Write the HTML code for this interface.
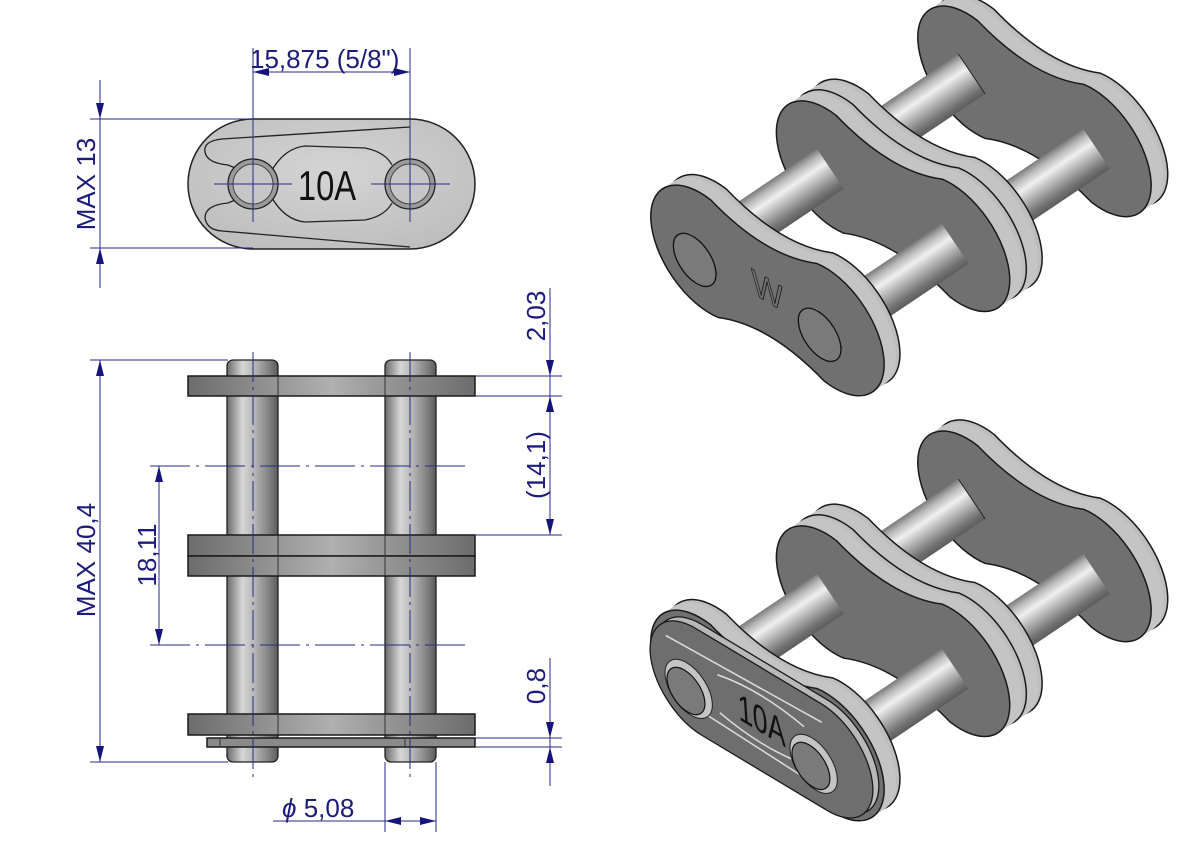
<!DOCTYPE html>
<html><head><meta charset="utf-8"><style>
html,body{margin:0;padding:0;background:#fff;}
svg{display:block;}
.dim{font-family:"Liberation Sans",sans-serif;font-size:26px;fill:#1c1c7c;}
</style></head><body>
<svg width="1191" height="842" viewBox="0 0 1191 842" xmlns="http://www.w3.org/2000/svg" xmlns:xlink="http://www.w3.org/1999/xlink">
<defs>
<linearGradient id="pinV" x1="0" y1="0" x2="1" y2="0">
<stop offset="0" stop-color="#6a6a6a"/><stop offset="0.3" stop-color="#d6d6d6"/><stop offset="0.55" stop-color="#b4b4b4"/><stop offset="0.85" stop-color="#7c7c7c"/><stop offset="1" stop-color="#5a5a5a"/></linearGradient>
<linearGradient id="plateH" x1="0" y1="0" x2="1" y2="0">
<stop offset="0" stop-color="#6c6c6c"/><stop offset="0.5" stop-color="#b0b0b0"/><stop offset="1" stop-color="#6c6c6c"/></linearGradient>
<linearGradient id="pin3" x1="0" y1="0" x2="0" y2="1">
<stop offset="0" stop-color="#7a7a7a"/><stop offset="0.15" stop-color="#b8b8b8"/><stop offset="0.35" stop-color="#f0f0f0"/><stop offset="0.55" stop-color="#bdbdbd"/><stop offset="0.85" stop-color="#747474"/><stop offset="1" stop-color="#5c5c5c"/></linearGradient>
<radialGradient id="topPlate" cx="0.5" cy="0.4" r="0.7"><stop offset="0" stop-color="#d4d4d4"/><stop offset="1" stop-color="#bcbcbc"/></radialGradient>
<path id="db" d="M1.2,6.8 Q7.94,3.9 14.675,6.8 A6.9,6.9 0 1 0 14.675,-6.8 Q7.94,-3.9 1.2,-6.8 A6.9,6.9 0 1 0 1.2,6.8 Z" vector-effect="non-scaling-stroke"/>
<path id="ov" d="M0,6.2 L15.875,6.2 A6.2,6.2 0 0 0 15.875,-6.2 L0,-6.2 A6.2,6.2 0 0 0 0,6.2 Z" vector-effect="non-scaling-stroke"/>
<g id="body">
 <g transform="translate(1113.5,137.6) rotate(-33.9)"><rect x="0" y="-20" width="24" height="40" fill="url(#pin3)"/></g>
 <circle cx="15.875" cy="0" r="1.8" fill="#aaa" stroke="#222" stroke-width="1" vector-effect="non-scaling-stroke" transform="matrix(7.87,4.72,-0.55,-8.65,1009,48)"/>
 <use xlink:href="#db" fill="#bdbdbd" stroke="#1a1a1a" stroke-width="1.5" transform="matrix(7.87,4.72,-0.55,-8.65,988.6,62.7)"/>
 <use xlink:href="#db" fill="#c4c4c4" transform="matrix(7.87,4.72,-0.55,-8.65,984.7,65.4)"/>
 <use xlink:href="#db" fill="#c4c4c4" transform="matrix(7.87,4.72,-0.55,-8.65,980.7,68.0)"/>
 <use xlink:href="#db" fill="#c4c4c4" transform="matrix(7.87,4.72,-0.55,-8.65,976.8,70.7)"/>
 <use xlink:href="#db" fill="#707070" stroke="#1a1a1a" stroke-width="1.5" transform="matrix(7.87,4.72,-0.55,-8.65,972.0,73.9)"/>
 <g transform="translate(863,147) rotate(-33.9)"><rect x="0" y="-24" width="131" height="48" fill="url(#pin3)"/><line x1="131" y1="-24" x2="131" y2="24" stroke="#222"/></g>
 <g transform="translate(987.9,221.9) rotate(-33.9)"><rect x="0" y="-24" width="131" height="48" fill="url(#pin3)"/></g>
 <use xlink:href="#db" fill="#bdbdbd" stroke="#1a1a1a" stroke-width="1.5" transform="matrix(7.87,4.72,-0.55,-8.65,863,147)"/>
 <use xlink:href="#db" fill="#c4c4c4" transform="matrix(7.87,4.72,-0.55,-8.65,859.1,149.7)"/>
 <use xlink:href="#db" fill="#c4c4c4" transform="matrix(7.87,4.72,-0.55,-8.65,855.1,152.3)"/>
 <use xlink:href="#db" fill="#c4c4c4" transform="matrix(7.87,4.72,-0.55,-8.65,851.2,155.0)"/>
 <use xlink:href="#db" fill="#bdbdbd" stroke="#1a1a1a" stroke-width="1.5" transform="matrix(7.87,4.72,-0.55,-8.65,847.2,157.6)"/>
 <use xlink:href="#db" fill="#c4c4c4" transform="matrix(7.87,4.72,-0.55,-8.65,843.3,160.3)"/>
 <use xlink:href="#db" fill="#c4c4c4" transform="matrix(7.87,4.72,-0.55,-8.65,839.3,162.9)"/>
 <use xlink:href="#db" fill="#c4c4c4" transform="matrix(7.87,4.72,-0.55,-8.65,835.4,165.6)"/>
 <use xlink:href="#db" fill="#707070" stroke="#1a1a1a" stroke-width="1.5" transform="matrix(7.87,4.72,-0.55,-8.65,830.6,168.7)"/>
 <g transform="translate(720.8,242.4) rotate(-33.9)"><rect x="0" y="-24" width="132" height="48" fill="url(#pin3)"/></g>
 <g transform="translate(845.7,317.3) rotate(-33.9)"><rect x="0" y="-24" width="132" height="48" fill="url(#pin3)"/></g>
 <use xlink:href="#db" fill="#bdbdbd" stroke="#1a1a1a" stroke-width="1.5" transform="matrix(7.87,4.72,-0.55,-8.65,720.8,242.4)"/>
 <use xlink:href="#db" fill="#c4c4c4" transform="matrix(7.87,4.72,-0.55,-8.65,716.9,245.1)"/>
 <use xlink:href="#db" fill="#c4c4c4" transform="matrix(7.87,4.72,-0.55,-8.65,712.9,247.7)"/>
 <use xlink:href="#db" fill="#c4c4c4" transform="matrix(7.87,4.72,-0.55,-8.65,709.0,250.4)"/>
 <use xlink:href="#db" fill="#707070" stroke="#1a1a1a" stroke-width="1.5" transform="matrix(7.87,4.72,-0.55,-8.65,705,253)"/>
</g>
</defs>

<!-- TOP VIEW -->
<path d="M253,119 L410,119 A65,65 0 0 1 410,249 L253,249 A65,65 0 0 1 253,119 Z" fill="url(#topPlate)" stroke="#222" stroke-width="1.5"/>
<path d="M410,127 L222,139 Q203,141 205,152 Q207,163 228,165 L240,170" fill="none" stroke="#222" stroke-width="1.3"/>
<path d="M240,198 L228,203 Q205,205 205,218 Q207,230 222,231 L410,247" fill="none" stroke="#222" stroke-width="1.3"/>
<path d="M272,170 Q285,148 305,146 L365,148 Q385,152 392,165 M272,198 Q285,220 305,222 L365,220 Q385,216 392,203" fill="none" stroke="#222" stroke-width="1.3"/>
<circle cx="253" cy="184" r="25" fill="#9a9a9a" stroke="#222" stroke-width="1.3"/>
<circle cx="253" cy="184" r="20" fill="#c6c6c6" stroke="#444" stroke-width="1"/>
<circle cx="410" cy="184" r="25" fill="#9a9a9a" stroke="#222" stroke-width="1.3"/>
<circle cx="410" cy="184" r="20" fill="#c6c6c6" stroke="#444" stroke-width="1"/>
<text x="327" y="200" text-anchor="middle" font-family="Liberation Sans Narrow,Liberation Sans,sans-serif" font-size="42" fill="#111" transform="translate(327,0) scale(0.78,1) translate(-327,0)">10A</text>
<g stroke="#2a2a8a" stroke-width="1">
<line x1="253" y1="48" x2="253" y2="222"/><line x1="410" y1="48" x2="410" y2="222"/>
<line x1="214" y1="184" x2="292" y2="184"/><line x1="371" y1="184" x2="450" y2="184"/>
<line x1="253" y1="72" x2="410" y2="72"/>
<line x1="100" y1="80" x2="100" y2="288"/>
<line x1="90" y1="119" x2="253" y2="119"/><line x1="90" y1="248" x2="253" y2="248"/>
</g>
<g fill="#14147a">
<polygon points="253,72 269,68 269,76"/><polygon points="410,72 394,68 394,76"/>
<polygon points="100,119 96,103 104,103"/><polygon points="100,248 96,264 104,264"/>
</g>
<text class="dim" x="250" y="68">15,875  (5/8")</text>
<text class="dim" transform="translate(95,184) rotate(-90)" text-anchor="middle">MAX 13</text>

<!-- SIDE VIEW -->
<rect x="227" y="360" width="51" height="402" rx="6" fill="url(#pinV)" stroke="#222" stroke-width="1.3"/>
<rect x="385" y="360" width="51" height="402" rx="6" fill="url(#pinV)" stroke="#222" stroke-width="1.3"/>
<g stroke="#1a1a1a" stroke-width="1.5" fill="url(#plateH)">
<rect x="188" y="376" width="287" height="20"/>
<rect x="188" y="535" width="287" height="21"/>
<rect x="188" y="556" width="287" height="20"/>
<rect x="188" y="714" width="287" height="21"/>
<rect x="207" y="738" width="268" height="9" fill="#8a8a8a"/>
</g>
<g stroke="#333" stroke-width="1">
<line x1="278" y1="376" x2="278" y2="396"/><line x1="385" y1="376" x2="385" y2="396"/>
<line x1="278" y1="535" x2="278" y2="576"/><line x1="385" y1="535" x2="385" y2="576"/>
<line x1="278" y1="714" x2="278" y2="735"/><line x1="385" y1="714" x2="385" y2="735"/>
<line x1="220" y1="738" x2="220" y2="747"/><line x1="405" y1="738" x2="405" y2="747"/>
</g>
<g stroke="#2a2a8a" stroke-width="1" fill="none">
<line x1="253" y1="352" x2="253" y2="778" stroke-dasharray="30,5,3,5"/>
<line x1="410" y1="352" x2="410" y2="778" stroke-dasharray="30,5,3,5"/>
<line x1="150" y1="466" x2="465" y2="466" stroke-dasharray="40,6,3,6"/>
<line x1="150" y1="645" x2="465" y2="645" stroke-dasharray="40,6,3,6"/>
<line x1="100" y1="360" x2="100" y2="762"/>
<line x1="90" y1="360" x2="228" y2="360"/><line x1="90" y1="762" x2="228" y2="762"/>
<line x1="159" y1="466" x2="159" y2="645"/>
<line x1="550" y1="288" x2="550" y2="535"/>
<line x1="475" y1="376" x2="562" y2="376"/><line x1="475" y1="396" x2="562" y2="396"/><line x1="475" y1="535" x2="562" y2="535"/>
<line x1="550" y1="658" x2="550" y2="786"/>
<line x1="475" y1="738" x2="562" y2="738"/><line x1="475" y1="747" x2="562" y2="747"/>
<line x1="385" y1="762" x2="385" y2="832"/><line x1="436" y1="762" x2="436" y2="832"/>
<line x1="273" y1="821" x2="436" y2="821"/>
</g>
<g fill="#14147a">
<polygon points="100,360 96,376 104,376"/><polygon points="100,762 96,746 104,746"/>
<polygon points="159,466 155,482 163,482"/><polygon points="159,645 155,629 163,629"/>
<polygon points="550,376 546,360 554,360"/><polygon points="550,396 546,412 554,412"/>
<polygon points="550,535 546,519 554,519"/>
<polygon points="550,738 546,722 554,722"/><polygon points="550,747 546,763 554,763"/>
<polygon points="385,821 401,817 401,825"/><polygon points="436,821 420,817 420,825"/>
</g>
<text class="dim" transform="translate(95,560) rotate(-90)" text-anchor="middle">MAX 40,4</text>
<text class="dim" transform="translate(156,555) rotate(-90)" text-anchor="middle">18,11</text>
<text class="dim" transform="translate(545,316) rotate(-90)" text-anchor="middle">2,03</text>
<text class="dim" transform="translate(545,465) rotate(-90)" text-anchor="middle">(14,1)</text>
<text class="dim" transform="translate(545,686) rotate(-90)" text-anchor="middle">0,8</text>
<text class="dim" x="282" y="817"><tspan font-style="italic">ϕ</tspan> 5,08</text>

<!-- 3D TOP LINK -->
<use xlink:href="#body"/>
<g transform="translate(694.7,259.9) rotate(-33.9)"><rect x="0" y="-24" width="12.4" height="48" fill="url(#pin3)"/></g>
<g transform="translate(819.6,334.8) rotate(-33.9)"><rect x="0" y="-24" width="12.4" height="48" fill="url(#pin3)"/></g>
<circle cx="0" cy="0" r="2.7" fill="#7a7a7a" stroke="#111" stroke-width="1.3" vector-effect="non-scaling-stroke" transform="matrix(7.87,4.72,-0.55,-8.65,694.7,259.9)"/>
<circle cx="15.875" cy="0" r="2.7" fill="#7a7a7a" stroke="#111" stroke-width="1.3" vector-effect="non-scaling-stroke" transform="matrix(7.87,4.72,-0.55,-8.65,694.7,259.9)"/>
<text x="0" y="0" font-family="Liberation Sans,sans-serif" font-size="4.2" fill="none" stroke="#111" stroke-width="0.8" vector-effect="non-scaling-stroke" text-anchor="middle" transform="matrix(7.87,4.72,-0.55,-8.65,705,253) translate(7.94,-1.4) scale(1,-1)">W</text>

<!-- 3D BOTTOM LINK -->
<g transform="translate(0,425)">
<use xlink:href="#body"/>
<use xlink:href="#ov" fill="#b8b8b8" stroke="#1a1a1a" stroke-width="1.3" transform="matrix(7.87,4.72,-0.55,-8.65,705,253)"/>
<use xlink:href="#ov" fill="#6e6e6e" stroke="#1a1a1a" stroke-width="1.3" transform="matrix(7.87,4.72,-0.55,-8.65,699,257)"/>
<path d="M-4,3.2 L15.875,4 M-4,-3.2 L15.875,-4 M2.5,2.2 Q8,3.5 13.5,2.2 M2.5,-2.2 Q8,-3.5 13.5,-2.2" fill="none" stroke="#ddd" stroke-width="1.5" vector-effect="non-scaling-stroke" transform="matrix(7.87,4.72,-0.55,-8.65,699,257)"/>
<g transform="translate(688.7,263.9) rotate(-33.9)"><rect x="0" y="-24" width="12.4" height="48" fill="url(#pin3)"/></g>
<g transform="translate(813.6,338.8) rotate(-33.9)"><rect x="0" y="-24" width="12.4" height="48" fill="url(#pin3)"/></g>
<circle cx="0" cy="0" r="3.0" fill="#c4c4c4" stroke="#222" stroke-width="1" vector-effect="non-scaling-stroke" transform="matrix(7.87,4.72,-0.55,-8.65,688.7,263.9)"/>
<circle cx="15.875" cy="0" r="3.0" fill="#c4c4c4" stroke="#222" stroke-width="1" vector-effect="non-scaling-stroke" transform="matrix(7.87,4.72,-0.55,-8.65,688.7,263.9)"/>
<circle cx="0" cy="0" r="2.4" fill="#7a7a7a" stroke="#111" stroke-width="1.2" vector-effect="non-scaling-stroke" transform="matrix(7.87,4.72,-0.55,-8.65,686,266)"/>
<circle cx="15.875" cy="0" r="2.4" fill="#7a7a7a" stroke="#111" stroke-width="1.2" vector-effect="non-scaling-stroke" transform="matrix(7.87,4.72,-0.55,-8.65,686,266)"/>
<text x="0" y="0" font-family="Liberation Sans,sans-serif" font-size="4.5" fill="#111" text-anchor="middle" transform="matrix(7.87,4.72,-0.55,-8.65,699,257) translate(7.94,-1.6) scale(0.75,-1)">10A</text>
</g>
</svg>
</body></html>
